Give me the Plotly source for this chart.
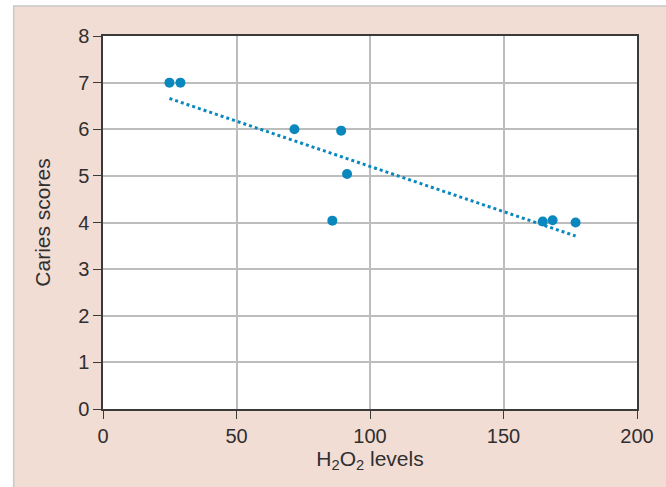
import plotly.graph_objects as go

h2o2_levels = [24.9, 29.0, 71.7, 89.2, 91.4, 85.9, 164.7, 168.4, 177.0]
caries_scores = [7.0, 7.0, 6.0, 5.97, 5.04, 4.04, 4.02, 4.05, 4.0]
trend_x = [24.9, 177.0]
trend_y = [6.66, 3.71]
x_ticks = [0, 50, 100, 150, 200]
y_ticks = [0, 1, 2, 3, 4, 5, 6, 7, 8]

blue = "#0a88bd"
pink = "#f2ddd5"
axis_col = "#3a3a3a"
grid_col = "#bdbdbd"
txt_col = "#2f2f2f"

fig = go.Figure()
fig.add_trace(go.Scatter(x=trend_x, y=trend_y, mode="lines",
                         line=dict(color=blue, width=3, dash="dot"),
                         hoverinfo="skip", showlegend=False))
fig.add_trace(go.Scatter(x=h2o2_levels, y=caries_scores, mode="markers",
                         marker=dict(color=blue, size=10),
                         showlegend=False))

W, H = 666, 487
L, R, T, B = 103, 25, 36, 78
pw, ph = W - L - R, H - T - B
x0p = (13 - L) / pw
y1p = 1 + (T - 6) / ph

tick_font = dict(family="Liberation Sans, Arial, sans-serif", size=20, color=txt_col)
title_font = dict(family="Liberation Sans, Arial, sans-serif", size=21, color=txt_col)

fig.update_layout(
    width=W, height=H,
    margin=dict(l=L, r=R, t=T, b=B),
    paper_bgcolor="white",
    plot_bgcolor="white",
    font=dict(family="Liberation Sans, Arial, sans-serif", size=20, color=txt_col),
    shapes=[
        dict(type="rect", xref="paper", yref="paper", x0=x0p, x1=3, y0=-3, y1=y1p,
             fillcolor=pink, line=dict(color="#c8c8c8", width=1.5), layer="below"),
        dict(type="rect", xref="paper", yref="paper", x0=0, x1=1, y0=0, y1=1,
             fillcolor="white", line=dict(width=0), layer="below"),
    ],
)
fig.update_xaxes(range=[0, 200], tickvals=x_ticks, showgrid=True, gridcolor=grid_col, gridwidth=1.5,
                 showline=True, linecolor=axis_col, linewidth=1.5, mirror=True,
                 ticks="outside", ticklen=8, tickcolor=axis_col, zeroline=False,
                 tickfont=tick_font,
                 title=dict(text="H<sub>2</sub>O<sub>2</sub> levels", font=title_font, standoff=3))
fig.update_yaxes(range=[0, 8], tickvals=y_ticks, showgrid=True, gridcolor=grid_col, gridwidth=1.5,
                 showline=True, linecolor=axis_col, linewidth=1.5, mirror=True,
                 ticks="outside", ticklen=8, tickcolor=axis_col, zeroline=False,
                 tickfont=tick_font,
                 title=dict(text="Caries scores", font=title_font, standoff=22))

fig.write_html("out.html")
